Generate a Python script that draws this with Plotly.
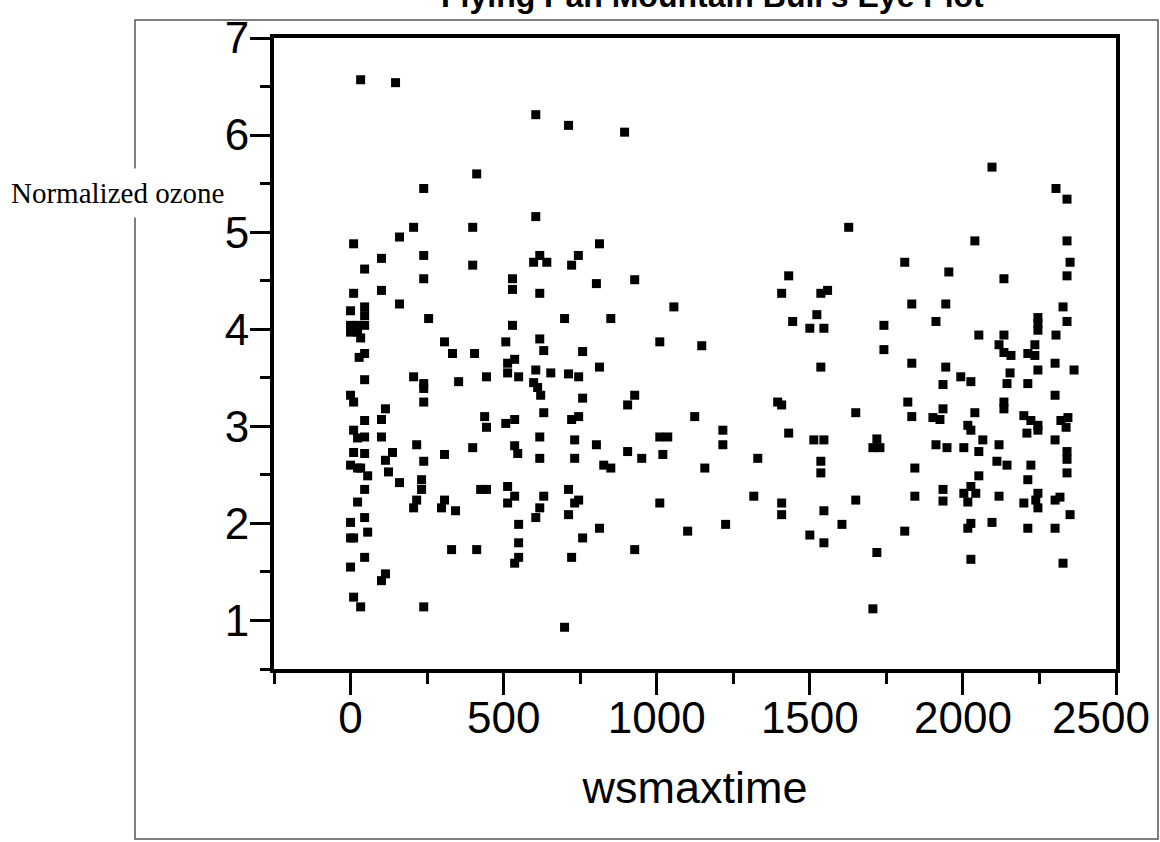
import plotly.graph_objects as go

# wsmaxtime (x) and normalized ozone (y) values
wsmaxtime_a = [33, 147, 605, 412, 239, 605, 206, 399, 10, 160, 101, 239, 46, 399, 618, 598, 641,
               239, 529, 10, 101, 529, 618, 160, 0, 46, 46, 255, 0, 23, 46, 0, 23, 33, 529,
               307, 507, 618, 631, 333, 405, 28, 46, 536]
ozone_a = [6.57, 6.54, 6.21, 5.60, 5.45, 5.16, 5.05, 5.05, 4.88, 4.95, 4.73, 4.76, 4.62, 4.66, 4.76, 4.69, 4.69,
           4.52, 4.52, 4.37, 4.40, 4.41, 4.37, 4.26, 4.19, 4.23, 4.14, 4.11, 4.04, 4.04, 4.04, 3.97, 3.97, 3.91, 4.04,
           3.87, 3.87, 3.90, 3.78, 3.75, 3.75, 3.71, 3.75, 3.69]

wsmaxtime_b = [513, 46, 206, 239, 239, 353, 444, 513, 549, 605, 654, 598, 611, 621, 0, 10, 239, 114,
               46, 101, 438, 444, 507, 536, 631, 10, 23, 46, 101, 618, 216, 399, 536, 546, 10, 46,
               307, 137, 114, 239, 618, 0, 23, 33, 124, 56, 160, 232, 232, 46, 425, 444, 513, 536,
               631, 23, 206, 216, 297, 307, 343, 513, 618, 605, 46, 0, 549, 56, 0, 10, 549, 330,
               412, 46, 549, 536, 0, 114, 101, 10, 33, 239]
ozone_b = [3.65, 3.48, 3.51, 3.44, 3.39, 3.46, 3.51, 3.55, 3.51, 3.58, 3.55, 3.45, 3.40, 3.32, 3.32, 3.25, 3.25, 3.18,
           3.06, 3.07, 3.10, 2.99, 3.03, 3.07, 3.14, 2.96, 2.88, 2.89, 2.89, 2.89, 2.81, 2.78, 2.80, 2.72, 2.73, 2.72,
           2.71, 2.73, 2.65, 2.64, 2.67, 2.60, 2.57, 2.57, 2.53, 2.49, 2.42, 2.45, 2.35, 2.35, 2.35, 2.35, 2.38, 2.28,
           2.28, 2.22, 2.16, 2.24, 2.16, 2.24, 2.13, 2.21, 2.16, 2.06, 2.06, 2.01, 1.99, 1.91, 1.85, 1.85, 1.80, 1.73,
           1.73, 1.65, 1.65, 1.59, 1.55, 1.48, 1.41, 1.24, 1.14, 1.14]

wsmaxtime_c = [712, 895, 813, 744, 722, 803, 928, 1056, 699, 850, 758, 1010, 1147,
               813, 712, 745, 758, 928, 905, 722, 745, 1124, 1216, 1216, 732, 803, 1010, 1036, 905,
               951, 1020, 1330, 732, 827, 850, 1157, 712, 745, 732, 712, 1010, 1317, 813, 758, 1101,
               1225, 722, 928, 699]
ozone_c = [6.10, 6.03, 4.88, 4.76, 4.66, 4.47, 4.51, 4.23, 4.11, 4.11, 3.77, 3.87, 3.83,
           3.61, 3.54, 3.51, 3.29, 3.32, 3.22, 3.07, 3.10, 3.10, 2.96, 2.81, 2.86, 2.81, 2.89, 2.89, 2.74,
           2.67, 2.71, 2.67, 2.67, 2.60, 2.57, 2.57, 2.35, 2.24, 2.21, 2.09, 2.21, 2.28, 1.95, 1.85, 1.92,
           1.99, 1.65, 1.73, 0.93]

wsmaxtime_d = [1627, 1431, 1408, 1536, 1558, 1810, 1954, 1523, 1444, 1500, 1546, 1833, 1944, 1742, 1912, 1742,
               1536, 1833, 1944, 1935, 1395, 1408, 1650, 1820, 1833, 1935, 1902, 1925, 1431, 1513, 1546,
               1719, 1706, 1729, 1912, 1948, 1536, 1536, 1843, 1408, 1408, 1546, 1650, 1843, 1935, 1935,
               1605, 1500, 1546, 1810, 1719, 1706]
ozone_d = [5.05, 4.55, 4.37, 4.37, 4.40, 4.69, 4.59, 4.15, 4.08, 4.01, 4.01, 4.26, 4.26, 4.04, 4.08, 3.79,
           3.61, 3.65, 3.61, 3.43, 3.25, 3.22, 3.14, 3.25, 3.10, 3.18, 3.09, 3.07, 2.93, 2.86, 2.86,
           2.87, 2.78, 2.78, 2.81, 2.78, 2.64, 2.52, 2.57, 2.21, 2.09, 2.13, 2.24, 2.28, 2.35, 2.23,
           1.99, 1.88, 1.80, 1.92, 1.70, 1.12]

wsmaxtime_e = [2095, 2304, 2340, 2039, 2340, 2350, 2340, 2134, 2327, 2340, 2245, 2245, 2245, 2052, 2134, 2304,
               2118, 2134, 2157, 2212, 2235, 2235,
               2301, 2363, 2245, 2154, 2144, 1993, 2026, 2212, 2301, 2134, 2134, 2039, 2199, 2222, 2245,
               2245, 2016, 2026, 2209, 2320, 2343, 2337, 2301, 2065, 2118, 2003, 2052, 2340, 2340, 2340,
               2111, 2144, 2222, 2052, 2212, 2026, 2003, 2042, 2016, 2118, 2199, 2245, 2238, 2245, 2301,
               2317, 2350, 2026, 2016, 2095, 2212, 2301, 2026, 2327]
ozone_e = [5.67, 5.45, 5.34, 4.91, 4.91, 4.69, 4.55, 4.52, 4.23, 4.08, 4.12, 4.06, 3.99, 3.94, 3.94, 3.94,
           3.84, 3.76, 3.73, 3.75, 3.84, 3.73,
           3.65, 3.58, 3.58, 3.55, 3.44, 3.51, 3.46, 3.44, 3.32, 3.25, 3.18, 3.14, 3.11, 3.06, 3.01,
           2.96, 3.01, 2.96, 2.93, 3.06, 3.09, 2.99, 2.86, 2.86, 2.81, 2.78, 2.74, 2.74, 2.66, 2.52,
           2.64, 2.60, 2.60, 2.49, 2.45, 2.38, 2.31, 2.31, 2.22, 2.28, 2.21, 2.31, 2.24, 2.16, 2.24,
           2.27, 2.09, 2.00, 1.95, 2.01, 1.95, 1.95, 1.63, 1.59]

wsmaxtime = wsmaxtime_a + wsmaxtime_b + wsmaxtime_c + wsmaxtime_d + wsmaxtime_e
ozone = ozone_a + ozone_b + ozone_c + ozone_d + ozone_e

x_range = [-250, 2500]
y_range = [0.5, 7]
x_tickvals = [0, 500, 1000, 1500, 2000, 2500]
# the last label is drawn separately, nudged left to stay inside the frame as in the reference
x_ticktext = ["0", "500", "1000", "1500", "2000", ""]
last_x_label = "2500"

FONT = "Arial, 'Liberation Sans', sans-serif"

fig = go.Figure()
fig.add_trace(go.Scatter(
    x=wsmaxtime, y=ozone, mode="markers",
    marker=dict(symbol="square", size=9, color="black", line=dict(width=0)),
    showlegend=False, hoverinfo="x+y",
))

axis_common = dict(
    showline=True, linecolor="black", linewidth=4, mirror=True,
    showgrid=False, zeroline=False, automargin=False,
    ticks="outside", tickcolor="black", tickwidth=3,
    tickfont=dict(family=FONT, size=44, color="black"),
    ticklabeloverflow="allow",
)

fig.update_xaxes(
    range=x_range, tickmode="array", tickvals=x_tickvals, ticktext=x_ticktext,
    ticklen=22, ticklabelstandoff=-15,
    minor=dict(dtick=250, tick0=0, ticklen=11, tickwidth=3, tickcolor="black", ticks="outside", showgrid=False),
    title=dict(text="wsmaxtime", font=dict(family=FONT, size=45, color="black"), standoff=32),
    **axis_common,
)
fig.update_yaxes(
    range=y_range, tick0=0, dtick=1, ticklen=20, ticklabelstandoff=-8,
    minor=dict(dtick=0.5, tick0=0, ticklen=10, tickwidth=3, tickcolor="black", ticks="outside", showgrid=False),
    **axis_common,
)

# last x tick label
fig.add_annotation(text=last_x_label, xref="paper", yref="paper",
                   x=(1151 - 274) / 842, y=(669 - 717) / 631,
                   xanchor="right", yanchor="middle", showarrow=False,
                   font=dict(family=FONT, size=44, color="black"), borderpad=0)

# outer frame
fig.add_shape(type="rect", xref="paper", yref="paper",
              x0=(135 - 274) / 842, x1=(1158 - 274) / 842,
              y0=(669 - 839) / 631, y1=1 + (38 - 20) / 631,
              line=dict(color="#555555", width=1.5), fillcolor="rgba(0,0,0,0)", layer="below")

# y label (separate text box with white background)
fig.add_annotation(text="Normalized ozone", xref="paper", yref="paper",
                   x=(117 - 274) / 842, y=1 - (193 - 38) / 631,
                   xanchor="center", yanchor="middle", showarrow=False,
                   font=dict(family="'Times New Roman', 'Liberation Serif', serif", size=29, color="black"),
                   bgcolor="white", borderpad=8)

# title (partly cut off at the top, as in the reference)
fig.add_annotation(text="<b>Flying Pan Mountain Bull's Eye Plot</b>", xref="paper", yref="paper",
                   x=(712 - 274) / 842, y=1 + (38 + 4) / 631,
                   xanchor="center", yanchor="middle", showarrow=False,
                   font=dict(family=FONT, size=32, color="black"))

fig.update_layout(
    width=1160, height=842, autosize=False,
    margin=dict(l=274, r=44, t=38, b=173),
    paper_bgcolor="white", plot_bgcolor="white",
)

fig.write_html("out.html",
               config={"responsive": False, "displayModeBar": False},
               post_script="document.body.style.margin='0px';")
